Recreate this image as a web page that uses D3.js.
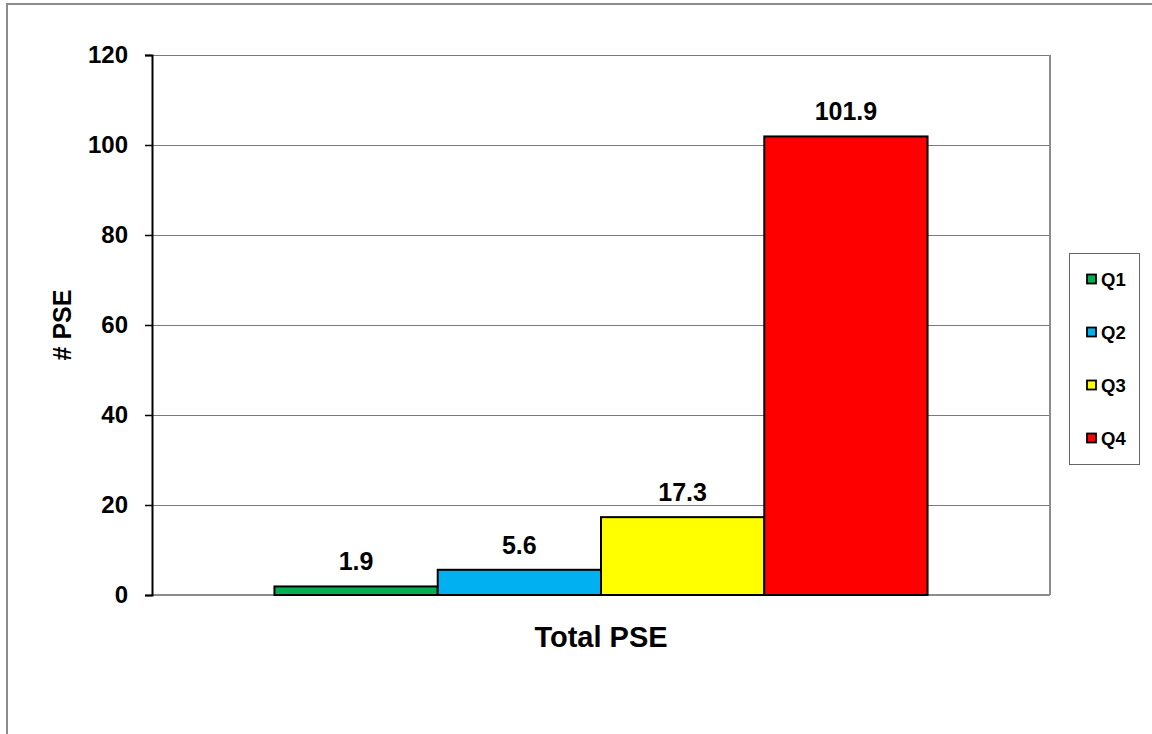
<!doctype html>
<html>
<head>
    <meta charset="UTF-8">
    <title>Total PSE</title>
    <script src="https://d3js.org/d3.v7.min.js"></script>
    <style>
        body { margin: 0; background: #fff; }
        text { font-family: Arial, "Liberation Sans", sans-serif; font-weight: bold; fill: #000; }
    </style>
</head>
<body>
    <svg width="1152" height="734" id="chart"></svg>
<script>
var categories = ["Total PSE"];
var seriesNames = ["Q1", "Q2", "Q3", "Q4"];
var seriesValues = [1.9, 5.6, 17.3, 101.9];
var seriesColors = ["#00B050", "#00B0F0", "#FFFF00", "#FF0000"];
var yTicks = [0, 20, 40, 60, 80, 100, 120];

var svg = d3.select("#chart");
var plot = { left: 152, top: 55, right: 1050, bottom: 595 };

// chart area border
svg.append("rect").attr("x", 7).attr("y", 4).attr("width", 1160).attr("height", 740)
    .attr("fill", "#fff").attr("stroke", "#8c8c8c").attr("stroke-width", 2);

var y = d3.scaleLinear().domain([0, 120]).range([plot.bottom, plot.top]);
// gap width 150% -> outer padding of 0.75 bar on each side
var x0 = d3.scaleBand().domain(categories).range([plot.left, plot.right])
    .paddingInner(0).paddingOuter(1.5 / 2 / seriesNames.length);
var x1 = d3.scaleBand().domain(seriesNames).range([0, x0.bandwidth()]).padding(0);

// gridlines
svg.append("g").selectAll("line").data(yTicks.filter(function(d){ return d > 0; })).enter()
    .append("line")
    .attr("x1", plot.left).attr("x2", plot.right)
    .attr("y1", function(d){ return y(d); }).attr("y2", function(d){ return y(d); })
    .attr("stroke", "#7a7a7a").attr("stroke-width", 1)
    .attr("shape-rendering", "crispEdges");

// plot area right and bottom edges
svg.append("line").attr("x1", plot.right).attr("x2", plot.right)
    .attr("y1", plot.top).attr("y2", plot.bottom)
    .attr("stroke", "#8c8c8c").attr("stroke-width", 2);
svg.append("line").attr("x1", plot.left).attr("x2", plot.right)
    .attr("y1", plot.bottom).attr("y2", plot.bottom)
    .attr("stroke", "#8c8c8c").attr("stroke-width", 2);

// bars
var cat = categories[0];
svg.append("g").selectAll("rect").data(seriesNames).enter()
    .append("rect")
    .attr("x", function(d){ return x0(cat) + x1(d); })
    .attr("y", function(d, i){ return y(seriesValues[i]); })
    .attr("width", x1.bandwidth())
    .attr("height", function(d, i){ return y(0) - y(seriesValues[i]); })
    .attr("fill", function(d, i){ return seriesColors[i]; })
    .attr("stroke", "#000").attr("stroke-width", 2);

// value labels
svg.append("g").selectAll("text").data(seriesNames).enter()
    .append("text")
    .attr("x", function(d){ return x0(cat) + x1(d) + x1.bandwidth() / 2; })
    .attr("y", function(d, i){ return y(seriesValues[i]) - 16; })
    .attr("text-anchor", "middle")
    .attr("font-size", 25)
    .text(function(d, i){ return seriesValues[i].toFixed(1); });

// y axis
var yAxis = d3.axisLeft(y).tickValues(yTicks).tickSize(7).tickPadding(17);
var ya = svg.append("g").attr("transform", "translate(" + plot.left + ",0)").call(yAxis);
ya.select(".domain").attr("stroke", "#000").attr("stroke-width", 2);
ya.selectAll(".tick line").attr("stroke", "#000").attr("stroke-width", 1.5);
ya.selectAll(".tick text").attr("font-size", 24).attr("font-family", "Arial, 'Liberation Sans', sans-serif")
    .attr("font-weight", "bold").attr("fill", "#000");

// axis titles
svg.append("text")
    .attr("transform", "translate(71," + ((plot.top + plot.bottom) / 2) + ") rotate(-90)")
    .attr("text-anchor", "middle").attr("font-size", 25).text("# PSE");
svg.append("text")
    .attr("x", x0(cat) + x0.bandwidth() / 2).attr("y", 647)
    .attr("text-anchor", "middle").attr("font-size", 29).text(cat);

// legend
var legend = svg.append("g");
legend.append("rect").attr("x", 1069.5).attr("y", 253.5).attr("width", 70).attr("height", 211)
    .attr("fill", "#fff").attr("stroke", "#666").attr("stroke-width", 1);
var ly = d3.scalePoint().domain(seriesNames).range([279, 438]);
var items = legend.selectAll("g.item").data(seriesNames).enter()
    .append("g").attr("class", "item")
    .attr("transform", function(d){ return "translate(0," + ly(d) + ")"; });
items.append("rect").attr("x", 1087).attr("y", -4.5).attr("width", 9).attr("height", 9)
    .attr("fill", function(d, i){ return seriesColors[i]; })
    .attr("stroke", "#000").attr("stroke-width", 1.8);
items.append("text").attr("x", 1101).attr("y", 0).attr("dy", "0.36em")
    .attr("font-size", 18.5).text(function(d){ return d; });
</script>
</body>
</html>
